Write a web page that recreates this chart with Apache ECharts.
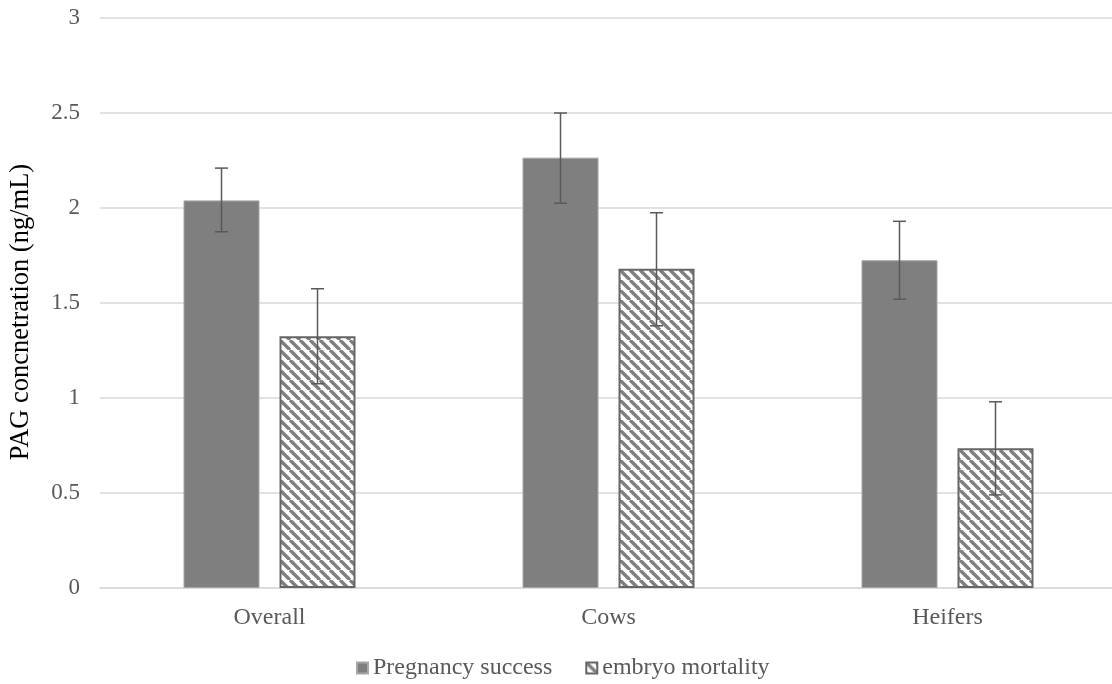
<!DOCTYPE html>
<html>
<head>
<meta charset="utf-8">
<script src="https://cdn.jsdelivr.net/npm/echarts@6/dist/echarts.min.js"></script>
<style>html,body{margin:0;padding:0;background:#fff;}#c{width:1112px;height:684px;}</style>
</head>
<body>
<div id="c"></div>
<script>
const categories = ['Overall', 'Cows', 'Heifers'];
const seriesNames = ['Pregnancy success', 'embryo mortality'];
const pregnancy = [2.04, 2.265, 1.725];
const pregnancyLow = [1.875, 2.025, 1.52];
const pregnancyHigh = [2.21, 2.5, 1.93];
const mortality = [1.325, 1.68, 0.735];
const mortalityLow = [1.075, 1.38, 0.49];
const mortalityHigh = [1.575, 1.975, 0.98];
const yTicks = [0, 0.5, 1, 1.5, 2, 2.5, 3];
const yTitle = 'PAG concnetration (ng/mL)';

const BAR_W = 76, GAP = 20;
const FONT = '"Liberation Serif","Times New Roman",serif';

function stripeCanvas(size) {
  const c = document.createElement('canvas');
  c.width = size; c.height = size;
  const g = c.getContext('2d');
  g.fillStyle = '#fff'; g.fillRect(0, 0, size, size);
  g.strokeStyle = '#7f7f7f'; g.lineWidth = 3.4;
  for (let k = -1; k <= 1; k++) {
    g.beginPath();
    g.moveTo(k * size, 0);
    g.lineTo(k * size + size, size);
    g.stroke();
  }
  return c;
}
const pattern = { image: stripeCanvas(10), repeat: 'repeat' };

function errSeries(low, high, sign) {
  const data = categories.map((c, i) => [i, low[i], high[i]]);
  return {
    type: 'custom',
    z: 10,
    silent: true,
    data: data,
    encode: { x: 0, y: [1, 2] },
    renderItem: function (params, api) {
      const i = api.value(0);
      const lo = api.coord([i, api.value(1)]);
      const hi = api.coord([i, api.value(2)]);
      const x = lo[0] + sign * (BAR_W + GAP) / 2;
      const cap = 6.5;
      const style = { stroke: '#595959', lineWidth: 1.5 };
      return {
        type: 'group',
        children: [
          { type: 'line', shape: { x1: x, y1: hi[1], x2: x, y2: lo[1] }, style: style },
          { type: 'line', shape: { x1: x - cap, y1: hi[1], x2: x + cap, y2: hi[1] }, style: style },
          { type: 'line', shape: { x1: x - cap, y1: lo[1], x2: x + cap, y2: lo[1] }, style: style }
        ]
      };
    }
  };
}

const chart = echarts.init(document.getElementById('c'), null, { renderer: 'canvas' });
chart.setOption({
  animation: false,
  backgroundColor: '#fff',
  grid: { left: 100, top: 18, width: 1017, bottom: 96, containLabel: false, outerBoundsMode: 'none' },
  legend: {
    top: 651,
    left: 351,
    itemWidth: 11,
    itemHeight: 11,
    itemGap: 33,
    textStyle: { fontFamily: FONT, fontSize: 24, color: '#595959' },
    data: [
      { name: seriesNames[0], icon: 'rect' },
      { name: seriesNames[1], icon: 'rect' }
    ]
  },
  graphic: [{
    type: 'text',
    x: 21,
    y: 312,
    rotation: Math.PI / 2,
    style: {
      text: yTitle,
      fontFamily: FONT,
      fontSize: 26.5,
      fill: '#000',
      textAlign: 'center',
      textVerticalAlign: 'middle'
    }
  }],
  xAxis: {
    type: 'category',
    data: categories,
    axisLine: { lineStyle: { color: '#d9d9d9', width: 1.5 } },
    axisTick: { show: false },
    axisLabel: { fontFamily: FONT, fontSize: 24, color: '#595959', margin: 18 }
  },
  yAxis: {
    type: 'value',
    min: yTicks[0],
    max: yTicks[yTicks.length - 1],
    interval: 0.5,
    axisLine: { show: false },
    axisTick: { show: false },
    splitLine: { lineStyle: { color: '#d9d9d9', width: 1.5 } },
    axisLabel: { fontFamily: FONT, fontSize: 23, color: '#595959', margin: 20 }
  },
  series: [
    {
      name: seriesNames[0],
      type: 'bar',
      data: pregnancy,
      barWidth: BAR_W,
      barGap: (GAP / BAR_W * 100) + '%',
      itemStyle: { color: '#7f7f7f', borderColor: '#a6a6a6', borderWidth: 1 }
    },
    {
      name: seriesNames[1],
      type: 'bar',
      data: mortality,
      barWidth: BAR_W,
      itemStyle: { color: pattern, borderColor: '#666666', borderWidth: 2 }
    },
    errSeries(pregnancyLow, pregnancyHigh, -1),
    errSeries(mortalityLow, mortalityHigh, 1)
  ]
});
</script>
</body>
</html>
